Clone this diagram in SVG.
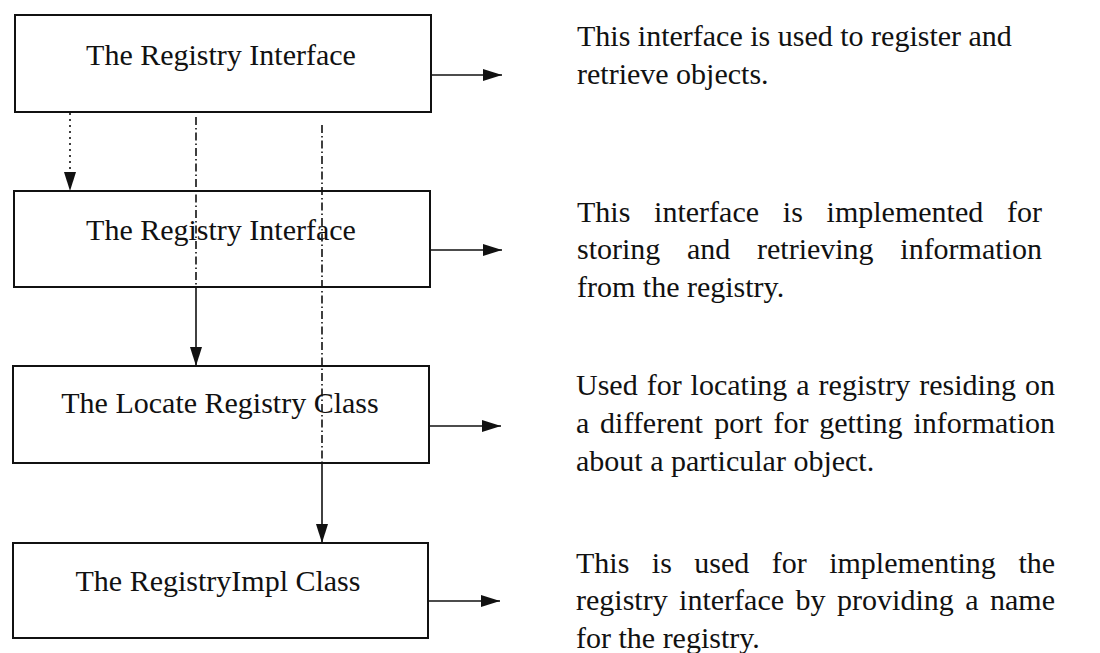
<svg xmlns="http://www.w3.org/2000/svg" width="1100" height="653" viewBox="0 0 1100 653">
  <style>
    .box { fill: none; stroke: #111111; stroke-width: 2; }
    .label { font-family: "Liberation Serif", "Times New Roman", serif; font-size: 30px; fill: #111111; }
    .desc { font-family: "Liberation Serif", "Times New Roman", serif; font-size: 30px; fill: #111111; }
    .line { stroke: #111111; stroke-width: 1.6; fill: none; }
    .dotted { stroke-dasharray: 2 4; }
    .dashdot { stroke-dasharray: 8 3 1.5 3; }
  </style>
  <defs>
    <marker id="head" markerUnits="userSpaceOnUse" markerWidth="20" markerHeight="14" refX="19" refY="6" orient="auto">
      <path d="M0,0 L19,6 L0,12 Z" fill="#111111"/>
    </marker>
  </defs>

  <rect width="1100" height="653" fill="#ffffff"/>

  <!-- connectors -->
  <g id="connectors">
    <!-- outgoing arrows to the descriptions -->
    <line class="line" x1="431" y1="75" x2="502" y2="75" marker-end="url(#head)"/>
    <line class="line" x1="430" y1="250" x2="502" y2="250" marker-end="url(#head)"/>
    <line class="line" x1="429" y1="426" x2="501" y2="426" marker-end="url(#head)"/>
    <line class="line" x1="428" y1="601" x2="500" y2="601" marker-end="url(#head)"/>
    <!-- dotted link between the two interfaces -->
    <line class="line dotted" x1="70" y1="113" x2="70" y2="191" marker-end="url(#head)"/>
    <!-- dash-dot link crossing into the Locate Registry class -->
    <line class="line dashdot" x1="196" y1="117" x2="196" y2="287"/>
    <line class="line" x1="196" y1="287" x2="196" y2="366" marker-end="url(#head)"/>
    <!-- dash-dot link crossing into the RegistryImpl class -->
    <line class="line dashdot" x1="322" y1="125" x2="322" y2="463"/>
    <line class="line" x1="322" y1="463" x2="322" y2="543" marker-end="url(#head)"/>
  </g>

  <g id="registry-interface">
    <rect class="box" x="15" y="15" width="416" height="97"/>
    <text class="label" x="221" y="65" text-anchor="middle">The Registry Interface</text>
  </g>

  <g id="registry-interface-2">
    <rect class="box" x="14" y="191" width="416" height="96"/>
    <text class="label" x="221" y="240" text-anchor="middle">The Registry Interface</text>
  </g>

  <g id="locate-registry">
    <rect class="box" x="13" y="366" width="416" height="97"/>
    <text class="label" x="220" y="413" text-anchor="middle">The Locate Registry Class</text>
  </g>

  <g id="registry-impl">
    <rect class="box" x="13" y="543" width="415" height="95"/>
    <text class="label" x="218" y="591" text-anchor="middle">The RegistryImpl Class</text>
  </g>

  <!-- descriptions (justified lines: words placed individually) -->
  <g id="desc-registry-interface">
    <text class="desc" x="577" y="46">This interface is used to register and</text>
    <text class="desc" x="577" y="84">retrieve objects.</text>
  </g>

  <g id="desc-registry-interface-2">
    <text class="desc" y="222"><tspan x="577">This</tspan><tspan x="654.1">interface</tspan><tspan x="782.8">is</tspan><tspan x="826.6">implemented</tspan><tspan x="1007">for</tspan></text>
    <text class="desc" y="259"><tspan x="577">storing</tspan><tspan x="687">and</tspan><tspan x="757">retrieving</tspan><tspan x="900.3">information</tspan></text>
    <text class="desc" x="577" y="297">from the registry.</text>
  </g>

  <g id="desc-locate-registry">
    <text class="desc" y="395"><tspan x="576">Used</tspan><tspan x="646.7">for</tspan><tspan x="690.6">locating</tspan><tspan x="796.3">a</tspan><tspan x="818.6">registry</tspan><tspan x="919.3">residing</tspan><tspan x="1025">on</tspan></text>
    <text class="desc" y="433"><tspan x="576">a</tspan><tspan x="600.1">different</tspan><tspan x="714.2">port</tspan><tspan x="773.4">for</tspan><tspan x="819.2">getting</tspan><tspan x="913.4">information</tspan></text>
    <text class="desc" x="576" y="471">about a particular object.</text>
  </g>

  <g id="desc-registry-impl">
    <text class="desc" y="573"><tspan x="576">This</tspan><tspan x="651.8">is</tspan><tspan x="694.3">used</tspan><tspan x="771.8">for</tspan><tspan x="829.2">implementing</tspan><tspan x="1018.4">the</tspan></text>
    <text class="desc" y="610"><tspan x="576">registry</tspan><tspan x="679.1">interface</tspan><tspan x="795.6">by</tspan><tspan x="837.1">providing</tspan><tspan x="965.2">a</tspan><tspan x="990">name</tspan></text>
    <text class="desc" x="576" y="648">for the registry.</text>
  </g>
</svg>
